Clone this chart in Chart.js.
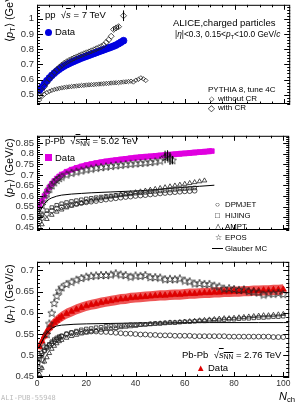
<!DOCTYPE html>
<html>
<head>
<meta charset="utf-8">
<script src="https://cdn.jsdelivr.net/npm/chart.js@4.4.1/dist/chart.umd.min.js"></script>
<style>
  body { margin: 0; background: #fff; }
  #wrap { position: relative; width: 295px; height: 403px; overflow: hidden; font-family: "Liberation Sans", Arial, sans-serif; color: #000; }
  canvas { position: absolute; left: 0; }
  .t { position: absolute; white-space: nowrap; line-height: 1; }
  .sb { font-size: 70%; position: relative; top: 0.3em; }
  .ov { text-decoration: overline; }
  .yt { position: absolute; transform-origin: 0 0; transform: rotate(-90deg); font-size: 11px; line-height: 12px; white-space: nowrap; }
</style>
</head>
<body>
<div id="wrap">
  <canvas id="c1" width="295" height="130" style="top:0"></canvas>
  <canvas id="c2" width="295" height="126" style="top:130px"></canvas>
  <canvas id="c3" width="295" height="147" style="top:256px"></canvas>

  <div class="yt" style="left:3px;top:42px">⟨<i>p</i><span class="sb">T</span>⟩ (GeV/<i>c</i>)</div>
  <div class="yt" style="left:3px;top:198px">⟨<i>p</i><span class="sb">T</span>⟩ (GeV/<i>c</i>)</div>
  <div class="yt" style="left:3px;top:324px">⟨<i>p</i><span class="sb">T</span>⟩ (GeV/<i>c</i>)</div>

  <!-- pp panel -->
  <div class="t" style="left:45px;top:10px;font-size:9.5px">pp&nbsp;&nbsp;√<span class="ov"><i>s</i></span> = 7 TeV</div>
  <div class="t" style="left:45px;top:28.5px;width:7px;height:7px;border-radius:50%;background:#0000e0"></div>
  <div class="t" style="left:55px;top:27px;font-size:9.5px">Data</div>
  <div class="t" style="left:173px;top:18px;font-size:9.5px">ALICE,charged particles</div>
  <div class="t" style="left:175px;top:30px;font-size:8.3px">|<i>η</i>|&lt;0.3, 0.15&lt;<i>p</i><span class="sb">T</span>&lt;10.0 GeV/<i>c</i></div>
  <div class="t" style="left:208px;top:86px;font-size:8px">PYTHIA 8, tune 4C</div>
  <div class="t" style="left:209px;top:95px;font-size:7px">◇</div>
  <div class="t" style="left:218px;top:95px;font-size:8px">without CR</div>
  <div class="t" style="left:208px;top:103.5px;font-size:9px">◇</div>
  <div class="t" style="left:218px;top:104px;font-size:8px">with CR</div>

  <!-- p-Pb panel -->
  <div class="t" style="left:45px;top:136px;font-size:9.5px">p-Pb&nbsp;&nbsp;√<span class="ov"><i>s</i><span class="sb">NN</span></span> = 5.02 TeV</div>
  <div class="t" style="left:45px;top:153.5px;width:7px;height:7px;background:#e000e0"></div>
  <div class="t" style="left:55px;top:152.5px;font-size:9.5px">Data</div>
  <div class="t" style="left:215px;top:201px;font-size:8px">○</div>
  <div class="t" style="left:225px;top:201px;font-size:7.8px">DPMJET</div>
  <div class="t" style="left:215px;top:212px;font-size:8px">□</div>
  <div class="t" style="left:225px;top:212px;font-size:7.8px">HIJING</div>
  <div class="t" style="left:215px;top:223px;font-size:8px">△</div>
  <div class="t" style="left:225px;top:223px;font-size:7.8px">AMPT</div>
  <div class="t" style="left:215px;top:234px;font-size:8px">☆</div>
  <div class="t" style="left:225px;top:234px;font-size:7.8px">EPOS</div>
  <div class="t" style="left:212px;top:248px;width:11px;height:1px;background:#000"></div>
  <div class="t" style="left:225px;top:244.5px;font-size:7.8px">Glauber MC</div>

  <!-- Pb-Pb panel -->
  <div class="t" style="left:182px;top:349.5px;font-size:9.5px">Pb-Pb&nbsp;&nbsp;√<span class="ov"><i>s</i><span class="sb">NN</span></span> = 2.76 TeV</div>
  <div class="t" style="left:196px;top:363px;font-size:9.5px;color:#dd0000">▲</div>
  <div class="t" style="left:208px;top:363px;font-size:9.5px">Data</div>
  <div class="t" style="left:1px;top:395px;font-size:7px;font-family:'DejaVu Sans Mono',monospace;color:#bbb">ALI-PUB-55948</div>
  <div class="t" style="left:279px;top:391px;font-size:11px"><i>N</i><span class="sb">ch</span></div>
</div>

<script>
// ---- pp, sqrt(s) = 7 TeV ----
const ppDataN = [1,2,3,4,5,6,7,8,9,10,11,12,13,14,15,16,17,18,19,20,21,22,23,24,25,26,27,28,29,30,31,32,33,34,35];
const ppData = [0.530,0.550,0.572,0.592,0.610,0.627,0.642,0.656,0.668,0.679,0.689,0.698,0.706,0.714,0.721,0.728,0.735,0.742,0.748,0.754,0.760,0.766,0.772,0.778,0.784,0.790,0.796,0.802,0.808,0.814,0.820,0.827,0.836,0.846,0.856];
const ppSys = 0.021;
const ppCrN = [1,2,3,4,5,6,7,8,9,10,11,12,13,14,15,16,17,18,19,20,21,22,23,24,25,26,27,28,29,30,31,32,33,35];
const ppCr = [0.49,0.522,0.553,0.58,0.604,0.626,0.646,0.664,0.68,0.695,0.707,0.717,0.726,0.734,0.742,0.749,0.756,0.763,0.77,0.776,0.782,0.789,0.796,0.803,0.81,0.818,0.827,0.845,0.862,0.885,0.93,0.94,0.948,1.02];
const ppCrErr = [0,0,0,0,0,0,0,0,0,0,0,0,0,0,0,0,0,0,0,0,0,0,0,0,0,0,0,0,0,0,0.01,0.01,0.012,0.035];
const ppNoCrN = [1,2,3,4,5,6,7,8,9,10,11,12,13,14,15,16,17,18,19,20,21,22,23,24,25,26,27,28,29,30,31,32,33,34,35,36,37,38,39,40,41,42,43,44];
const ppNoCr = [0.465,0.488,0.503,0.514,0.522,0.529,0.534,0.538,0.542,0.545,0.548,0.55,0.552,0.554,0.556,0.558,0.559,0.561,0.562,0.564,0.565,0.566,0.567,0.569,0.57,0.571,0.573,0.574,0.575,0.577,0.578,0.579,0.58,0.582,0.584,0.585,0.587,0.589,0.584,0.596,0.601,0.611,0.605,0.594];

// ---- p-Pb, sqrt(sNN) = 5.02 TeV ----
const pPbDataN = [1,2,3,4,5,6,7,8,9,10,12,14,16,18,20,22,24,26,28,30,32,34,36,38,40,42,44,46,48,50,52,54,56,58,60,62,64,66,68,70,71];
const pPbData = [0.553,0.576,0.600,0.622,0.641,0.657,0.671,0.683,0.693,0.702,0.715,0.725,0.733,0.740,0.746,0.751,0.756,0.760,0.764,0.767,0.770,0.773,0.776,0.779,0.782,0.784,0.786,0.788,0.790,0.792,0.794,0.796,0.798,0.800,0.802,0.804,0.806,0.808,0.810,0.812,0.813];
const pPbSys = 0.014;
const pPbModelN = [1,2,4,6,8,10,12,14,16,18,20,22,24,26,28,30,32,34,36,38,40,42,44,46,48,50,52,54,56,58,60,62,64];
const pPbDpmjet = [0.48,0.495,0.515,0.53,0.54,0.547,0.553,0.558,0.562,0.566,0.57,0.573,0.576,0.58,0.583,0.586,0.589,0.592,0.595,0.597,0.6,0.602,0.604,0.607,0.609,0.612,0.614,0.616,0.618,0.62,0.622,0.623,0.625];
const pPbHijing = [0.5,0.51,0.53,0.545,0.556,0.563,0.569,0.574,0.578,0.582,0.586,0.589,0.592,0.595,0.598,0.6,0.603,0.605,0.608,0.61,0.613,0.615,0.617,0.62,0.622,0.624,0.626,0.628,0.631,0.633,0.635,0.637,0.638];
const pPbAmptN = [1,2,4,6,8,10,12,14,16,18,20,22,24,26,28,30,32,34,36,38,40,42,44,46,48,50,52,54,56,58,60,62,64,66,68];
const pPbAmpt = [0.45,0.465,0.49,0.51,0.525,0.535,0.545,0.553,0.56,0.566,0.572,0.578,0.583,0.588,0.593,0.597,0.601,0.605,0.609,0.613,0.617,0.621,0.625,0.629,0.633,0.637,0.641,0.645,0.649,0.653,0.657,0.661,0.665,0.669,0.673];
const pPbEposN = [1,2,3,4,5,6,7,8,9,10,12,14,16,18,20,22,24,26,28,30,32,34,36,38,40,42,44,46,48,50,52,53,54,55];
const pPbEpos = [0.52,0.557,0.588,0.613,0.634,0.651,0.665,0.676,0.685,0.692,0.702,0.71,0.716,0.721,0.726,0.73,0.734,0.737,0.74,0.743,0.746,0.748,0.751,0.753,0.755,0.757,0.759,0.761,0.764,0.768,0.785,0.792,0.778,0.77];
const pPbEposErr = [0,0,0,0,0,0,0,0,0,0,0,0,0,0,0,0,0,0,0,0,0,0,0,0,0,0,0,0,0,0,0.03,0.025,0.03,0.02];
const pPbGlauberN = [1,2,3,4,5,6,8,10,14,18,22,26,30,36,42,48,54,60,66,72];
const pPbGlauber = [0.52,0.545,0.563,0.576,0.585,0.591,0.599,0.604,0.609,0.612,0.615,0.617,0.619,0.622,0.625,0.63,0.636,0.641,0.646,0.651];

// ---- Pb-Pb, sqrt(sNN) = 2.76 TeV ----
const pbDataN = [1,2,3,4,5,6,7,8,9,10,12,14,16,18,20,22,24,26,28,30,32,34,36,38,40,42,44,46,48,50,52,54,56,58,60,62,64,66,68,70,72,74,76,78,80,82,84,86,88,90,92,94,96,98,100];
const pbData = [0.520,0.533,0.545,0.555,0.564,0.571,0.577,0.582,0.587,0.591,0.598,0.603,0.608,0.612,0.616,0.619,0.621,0.624,0.626,0.628,0.630,0.632,0.633,0.635,0.636,0.637,0.638,0.639,0.640,0.641,0.641,0.642,0.643,0.643,0.644,0.645,0.645,0.646,0.647,0.647,0.648,0.648,0.649,0.649,0.650,0.650,0.651,0.651,0.652,0.652,0.653,0.653,0.654,0.654,0.655];
const pbSys = 0.012;
const pbModelN = [1,2,3,4,5,6,7,8,9,10,12,14,16,18,20,22,24,26,28,30,32,34,36,38,40,42,44,46,48,50,52,54,56,58,60,62,64,66,68,70,72,74,76,78,80,82,84,86,88,90,92,94,96,98,100];
const pbEpos = [0.47,0.49,0.52,0.55,0.575,0.6,0.623,0.64,0.652,0.66,0.668,0.673,0.678,0.682,0.685,0.687,0.688,0.689,0.689,0.69,0.693,0.69,0.689,0.685,0.688,0.687,0.689,0.684,0.684,0.683,0.679,0.68,0.679,0.681,0.676,0.674,0.669,0.67,0.668,0.668,0.664,0.662,0.657,0.658,0.656,0.654,0.655,0.651,0.65,0.648,0.643,0.646,0.645,0.647,0.644];
const pbHijing = [0.49,0.5,0.51,0.52,0.526,0.532,0.537,0.541,0.544,0.546,0.551,0.554,0.557,0.56,0.562,0.563,0.565,0.566,0.568,0.569,0.57,0.57,0.571,0.572,0.572,0.573,0.573,0.574,0.575,0.575,0.576,0.577,0.577,0.578,0.579,0.579,0.58,0.581,0.581,0.582,0.583,0.583,0.584,0.585,0.585,0.586,0.587,0.587,0.588,0.589,0.589,0.59,0.591,0.591,0.592];
const pbAmpt = [0.455,0.47,0.485,0.495,0.505,0.515,0.522,0.528,0.533,0.536,0.541,0.545,0.548,0.551,0.553,0.556,0.558,0.56,0.562,0.563,0.564,0.566,0.567,0.568,0.569,0.571,0.572,0.573,0.574,0.575,0.576,0.577,0.577,0.578,0.579,0.58,0.581,0.582,0.583,0.584,0.585,0.586,0.587,0.587,0.588,0.589,0.59,0.591,0.592,0.593,0.594,0.594,0.595,0.596,0.597];
const pbDpmjet = [0.5,0.505,0.512,0.518,0.523,0.528,0.533,0.537,0.541,0.544,0.549,0.552,0.554,0.555,0.556,0.556,0.556,0.555,0.555,0.554,0.553,0.552,0.551,0.551,0.55,0.549,0.549,0.548,0.548,0.547,0.547,0.547,0.546,0.546,0.546,0.546,0.545,0.545,0.545,0.545,0.545,0.545,0.545,0.544,0.544,0.544,0.544,0.544,0.544,0.544,0.544,0.544,0.543,0.543,0.543];
const pbGlauberN = [1,2,3,4,5,6,8,10,15,20,30,40,50,60,70,80,90,100,102];
const pbGlauber = [0.52,0.532,0.543,0.552,0.559,0.564,0.569,0.571,0.573,0.574,0.575,0.576,0.576,0.577,0.577,0.577,0.577,0.577,0.577];

// tick labels
const xTicks = [0, 20, 40, 60, 80, 100];
const yTicksPp = [0.5, 0.6, 0.7, 0.8, 0.9, 1];
const yTicksPPb = [0.45, 0.5, 0.55, 0.6, 0.65, 0.7, 0.75, 0.8, 0.85];
const yTicksPbPb = [0.45, 0.5, 0.55, 0.6, 0.65, 0.7];

const pts = (xs, ys) => xs.map((x, i) => ({ x, y: ys[i] }));
const INK = '#222';

// open 5-point star used as EPOS marker
function starMarker() {
  const c = document.createElement('canvas');
  c.width = 10; c.height = 10;
  const g = c.getContext('2d');
  g.beginPath();
  for (let i = 0; i < 10; i++) {
    const r = i % 2 ? 1.8 : 4.2;
    const a = -Math.PI / 2 + i * Math.PI / 5;
    g.lineTo(5 + r * Math.cos(a), 5.4 + r * Math.sin(a));
  }
  g.closePath();
  g.strokeStyle = INK; g.lineWidth = 0.8; g.stroke();
  return c;
}
const star = starMarker();

function markers(data, style, radius, extra) {
  return Object.assign({
    data, showLine: false, pointStyle: style, pointRadius: radius,
    pointBorderColor: INK, pointBackgroundColor: 'rgba(0,0,0,0)', pointBorderWidth: 0.8, order: 0
  }, extra || {});
}
function band(xs, ys, sys, fillColor, edge) {
  return [
    { data: pts(xs, ys.map(v => v + sys)), pointRadius: 0, borderWidth: edge ? 0.8 : 0, borderColor: edge || fillColor, backgroundColor: fillColor, fill: '+1', order: 5 },
    { data: pts(xs, ys.map(v => v - sys)), pointRadius: 0, borderWidth: edge ? 0.8 : 0, borderColor: edge || fillColor, fill: false, order: 5 }
  ];
}

// frame with inward ticks on all sides, plus vertical error bars
const frame = {
  id: 'frame',
  afterDatasetsDraw(chart, args, o) {
    const { ctx, chartArea: a, scales: { x, y } } = chart;
    ctx.save();
    ctx.strokeStyle = '#000';
    ctx.lineWidth = 1;
    ctx.beginPath();
    chart.data.datasets.forEach(ds => {
      if (!ds.errY) return;
      ds.data.forEach((p, i) => {
        const e = ds.errY[i];
        if (!e) return;
        const px = x.getPixelForValue(p.x);
        ctx.moveTo(px, y.getPixelForValue(p.y + e));
        ctx.lineTo(px, y.getPixelForValue(p.y - e));
      });
    });
    ctx.stroke();
    ctx.beginPath();
    for (let v = 0; v <= x.max; v += 5) {
      const px = Math.round(x.getPixelForValue(v)) + 0.5;
      const len = v % 20 === 0 ? 5 : 2.5;
      ctx.moveTo(px, a.bottom); ctx.lineTo(px, a.bottom - len);
      ctx.moveTo(px, a.top); ctx.lineTo(px, a.top + len);
    }
    const n0 = Math.ceil(y.min / o.minor - 1e-6);
    for (let k = n0; k * o.minor <= y.max + 1e-9; k++) {
      const v = k * o.minor;
      const r = v / o.major;
      const len = Math.abs(r - Math.round(r)) < 1e-6 ? 6 : 3;
      const py = Math.round(y.getPixelForValue(v)) + 0.5;
      ctx.moveTo(a.left, py); ctx.lineTo(a.left + len, py);
      ctx.moveTo(a.right, py); ctx.lineTo(a.right - len, py);
    }
    ctx.stroke();
    ctx.strokeRect(a.left + 0.5, a.top + 0.5, a.width - 1, a.height - 1);
    ctx.restore();
  }
};

function panel(id, yMin, yMax, yTicks, minor, major, padTop, showX, datasets) {
  return new Chart(document.getElementById(id), {
    type: 'line',
    data: { datasets },
    plugins: [frame],
    options: {
      responsive: false,
      animation: false,
      devicePixelRatio: 1,
      layout: { padding: { top: padTop, right: 4, left: 0, bottom: 0 } },
      elements: { line: { tension: 0 } },
      plugins: { legend: { display: false }, tooltip: { enabled: false }, frame: { minor, major } },
      scales: {
        x: {
          type: 'linear', min: 0, max: 102.4, display: showX,
          grid: { display: false, drawTicks: false }, border: { display: false },
          afterBuildTicks: s => { s.ticks = xTicks.map(v => ({ value: v })); },
          afterFit: s => { s.height = 26; s.paddingLeft = 0; s.paddingRight = 0; },
          ticks: { padding: 2, color: '#333', font: { family: 'Liberation Sans', size: 8.5 }, maxRotation: 0, autoSkip: false }
        },
        y: {
          type: 'linear', min: yMin, max: yMax,
          grid: { display: false, drawTicks: false }, border: { display: false },
          afterBuildTicks: s => { s.ticks = yTicks.map(v => ({ value: v })); },
          afterFit: s => { s.width = 37; s.paddingTop = 0; s.paddingBottom = 0; },
          ticks: { padding: 3, color: '#333', font: { family: 'Liberation Sans', size: 9.5 }, autoSkip: false, callback: v => String(v) }
        }
      }
    }
  });
}

panel('c1', 0.439, 1.092, yTicksPp, 0.02, 0.1, 4, false, [
  markers(pts(ppCrN, ppCr), 'rectRot', 3, { errY: ppCrErr }),
  markers(pts(ppNoCrN, ppNoCr), 'rectRot', 2.2),
  markers(pts(ppDataN, ppData), 'circle', 3.4, { pointBackgroundColor: '#0000e0', pointBorderColor: '#0000e0', order: 1 }),
  ...band(ppDataN, ppData, ppSys, 'rgba(160,160,255,0.45)', 'rgba(120,120,255,0.8)')
]);

panel('c2', 0.4385, 0.8855, yTicksPPb, 0.01, 0.05, 0, false, [
  markers(pts(pPbEposN, pPbEpos), star, 5, { errY: pPbEposErr }),
  markers(pts(pPbAmptN, pPbAmpt), 'triangle', 2.7),
  markers(pts(pPbModelN, pPbHijing), 'rect', 2.5),
  markers(pts(pPbModelN, pPbDpmjet), 'circle', 2.4),
  { data: pts(pPbGlauberN, pPbGlauber), pointRadius: 0, borderColor: '#000', borderWidth: 1, fill: false, order: 0 },
  markers(pts(pPbDataN, pPbData), 'rect', 3.3, { pointBackgroundColor: '#e000e0', pointBorderColor: '#e000e0', order: 1 }),
  ...band(pPbDataN, pPbData, pPbSys, 'rgba(228,0,228,0.95)')
]);

panel('c3', 0.449, 0.72, yTicksPbPb, 0.01, 0.05, 0, true, [
  markers(pts(pbModelN, pbEpos), star, 5),
  markers(pts(pbModelN, pbAmpt), 'triangle', 2.7),
  markers(pts(pbModelN, pbHijing), 'rect', 2.5),
  markers(pts(pbModelN, pbDpmjet), 'circle', 2.4),
  { data: pts(pbGlauberN, pbGlauber), pointRadius: 0, borderColor: '#000', borderWidth: 1, fill: false, order: 0 },
  markers(pts(pbDataN, pbData), 'triangle', 3.6, { pointBackgroundColor: '#dd0000', pointBorderColor: '#dd0000', order: 1 }),
  ...band(pbDataN, pbData, pbSys, 'rgba(232,30,30,0.75)')
]);
</script>
</body>
</html>
